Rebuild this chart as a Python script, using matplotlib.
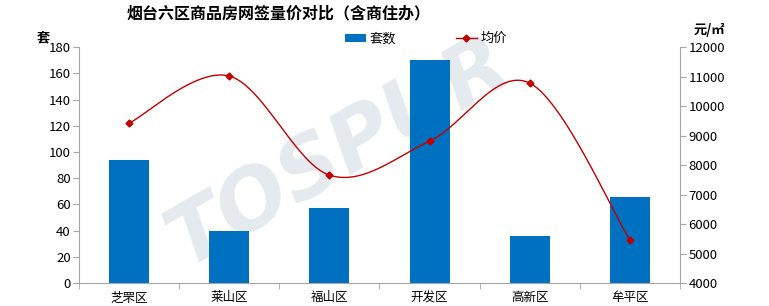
import numpy as np
import matplotlib.pyplot as plt

plt.rcParams['font.family'] = ['Noto Sans CJK SC', 'DejaVu Sans']

# data
districts = ['芝罘区', '莱山区', '福山区', '开发区', '高新区', '牟平区']
units = [94, 40, 57, 170, 36, 66]
avg_price = [9420, 11020, 7660, 8810, 10780, 5460]

bar_color = '#0070C0'
line_color = '#C00000'
axis_color = '#A6A6A6'


def smooth_path(xs, ys, steps=30):
    # Excel-style smoothed line (Catmull-Rom Bezier) drawn through the points
    xs = np.asarray(xs, float)
    ys = np.asarray(ys, float)
    px = np.concatenate([[xs[0]], xs, [xs[-1]]])
    py = np.concatenate([[ys[0]], ys, [ys[-1]]])
    outx, outy = [], []
    t = np.linspace(0, 1, steps)
    for i in range(1, len(px) - 2):
        p0 = np.array([px[i], py[i]])
        p3 = np.array([px[i + 1], py[i + 1]])
        c1 = p0 + (np.array([px[i + 1], py[i + 1]]) - np.array([px[i - 1], py[i - 1]])) / 6
        c2 = p3 - (np.array([px[i + 2], py[i + 2]]) - np.array([px[i], py[i]])) / 6
        b = ((1 - t) ** 3)[:, None] * p0 + (3 * (1 - t) ** 2 * t)[:, None] * c1 \
            + (3 * (1 - t) * t ** 2)[:, None] * c2 + (t ** 3)[:, None] * p3
        outx.extend(b[:, 0])
        outy.extend(b[:, 1])
    return outx, outy


fig = plt.figure(figsize=(7.69, 3.06), dpi=100)

# faint watermark behind everything
fig.text(0.44, 0.5, 'TOSPUR', fontsize=60, fontweight='bold', style='italic',
         color='#E4EAEE', rotation=30, ha='center', va='center',
         family='DejaVu Sans', zorder=-5)

ax = fig.add_axes([0.1027, 0.075, 0.7815, 0.771])
ax2 = ax.twinx()

x = np.arange(len(districts))
ax.bar(x, units, width=0.4, color=bar_color, label='套数', zorder=2)
ax.set_xlim(-0.5, len(districts) - 0.5)
ax.set_ylim(0, 180)
ax.set_yticks(range(0, 181, 20))
ax.set_xticks(x)
ax.set_xticklabels(districts)
ax.set_xticks(np.arange(-0.5, len(districts), 1), minor=True)
ax.tick_params(axis='x', which='major', length=0, pad=6, labelsize=9)
ax.tick_params(axis='x', which='minor', length=4, color=axis_color)
ax.tick_params(axis='y', length=4, color=axis_color, labelsize=9.5, pad=2)

sx, sy = smooth_path(x, avg_price)
ax2.plot(sx, sy, color=line_color, lw=1, zorder=3)
ax2.plot(x, avg_price, linestyle='none', marker='D', markersize=3.5,
         color=line_color, zorder=4)
ax2.plot([], [], color=line_color, lw=1, marker='D', markersize=3.5, label='均价')
ax2.set_ylim(4000, 12000)
ax2.set_yticks(range(4000, 12001, 1000))
ax2.tick_params(axis='y', length=4, color=axis_color, labelsize=9.5, pad=2)

for a in (ax, ax2):
    a.patch.set_visible(False)
    a.spines['top'].set_visible(False)
    for s in ('left', 'right', 'bottom'):
        a.spines[s].set_color(axis_color)
ax.spines['right'].set_visible(False)
ax2.spines['left'].set_visible(False)
ax2.spines['bottom'].set_visible(False)

h1, l1 = ax.get_legend_handles_labels()
h2, l2 = ax2.get_legend_handles_labels()
fig.legend(h1 + h2, l1 + l2, loc='center', bbox_to_anchor=(0.554, 0.873),
           ncol=2, frameon=False, fontsize=9.5, columnspacing=4.5,
           handlelength=1.6, handletextpad=0.3, handleheight=0.6)

fig.text(0.362, 0.957, '烟台六区商品房网签量价对比（含商住办）', ha='center', va='center',
         fontsize=11.5, fontweight='bold')
fig.text(0.056, 0.879, '套', ha='center', va='center', fontsize=9.5, fontweight='bold')
fig.text(0.922, 0.902, '元/㎡', ha='center', va='center', fontsize=9.5, fontweight='bold')

fig.savefig('out.png', dpi=100)
